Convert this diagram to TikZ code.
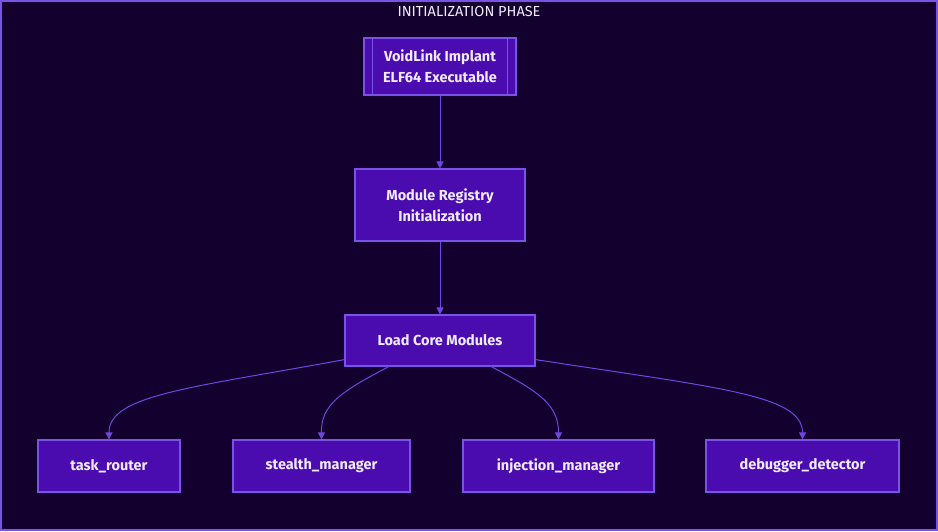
\documentclass[tikz,border=0pt]{standalone}
\usepackage{fontspec}
\setmainfont{Fira Sans}
\usetikzlibrary{
		arrows.meta,
		calc,
		positioning
	}
\definecolor{phasebg}{HTML}{13002E}
\definecolor{boxfill}{HTML}{4A0CAE}
\definecolor{boxline}{HTML}{7A52E6}
\definecolor{linkline}{HTML}{7046E0}
\definecolor{labeltext}{HTML}{F0EAFF}
\tikzset{
		>={Triangle[length=7pt,width=7pt]},
		modbox/.style={draw=boxline,fill=boxfill,line width=1.2pt,text=labeltext,
			font=\fontsize{14.5}{21}\selectfont\bfseries,align=center,inner sep=0pt},
		link/.style={draw=linkline,line width=1pt,->}
	}

\begin{document}
\begin{tikzpicture}[x=1pt,y=-1pt]
          \useasboundingbox (0,0) rectangle (938,531);
          \fill[phasebg] (0,0) rectangle (938,531);
          \draw[boxline,line width=2pt] (1,1) rectangle (937,530);
          \node[text=labeltext,font=\fontsize{14.5}{16}\selectfont] (title) at (469,12) {INITIALIZATION PHASE};

          \node[modbox,minimum width=152pt,minimum height=57pt] (implant) at (440,66.5) {VoidLink Implant\\ELF64 Executable};
          \draw[boxline,line width=1.2pt] ($(implant.north west)+(9,0)$) -- ($(implant.south west)+(9,0)$);
          \draw[boxline,line width=1.2pt] ($(implant.north east)+(-9,0)$) -- ($(implant.south east)+(-9,0)$);

          \node[modbox,minimum width=170pt,minimum height=72pt] (registry) at (440,205) {Module Registry\\Initialization};
          \node[modbox,minimum width=190pt,minimum height=51pt] (core) at (440,340.5) {Load Core Modules};

          \node[modbox,minimum width=142pt,minimum height=52pt] (router) at (109,466) {task\_router};
          \node[modbox,minimum width=177pt,minimum height=52pt] (stealth) at (321.5,466) {stealth\_manager};
          \node[modbox,minimum width=191pt,minimum height=52pt] (inject) at (558.5,466) {injection\_manager};
          \node[modbox,minimum width=193pt,minimum height=52pt] (debug) at (802.5,466) {debugger\_detector};

          \draw[link] (implant) -- (registry);
          \draw[link] (registry) -- (core);

          \draw[link] (core.south west) ++(0,-7) .. controls (190,388) and (109,395) .. (router.north);
          \draw[link] (390,366) .. controls (340,392) and (321,405) .. (stealth.north);
          \draw[link] (490,366) .. controls (540,392) and (558.5,405) .. (inject.north);
          \draw[link] (core.south east) ++(0,-7) .. controls (720,388) and (802.5,395) .. (debug.north);
\end{tikzpicture}
\end{document}
